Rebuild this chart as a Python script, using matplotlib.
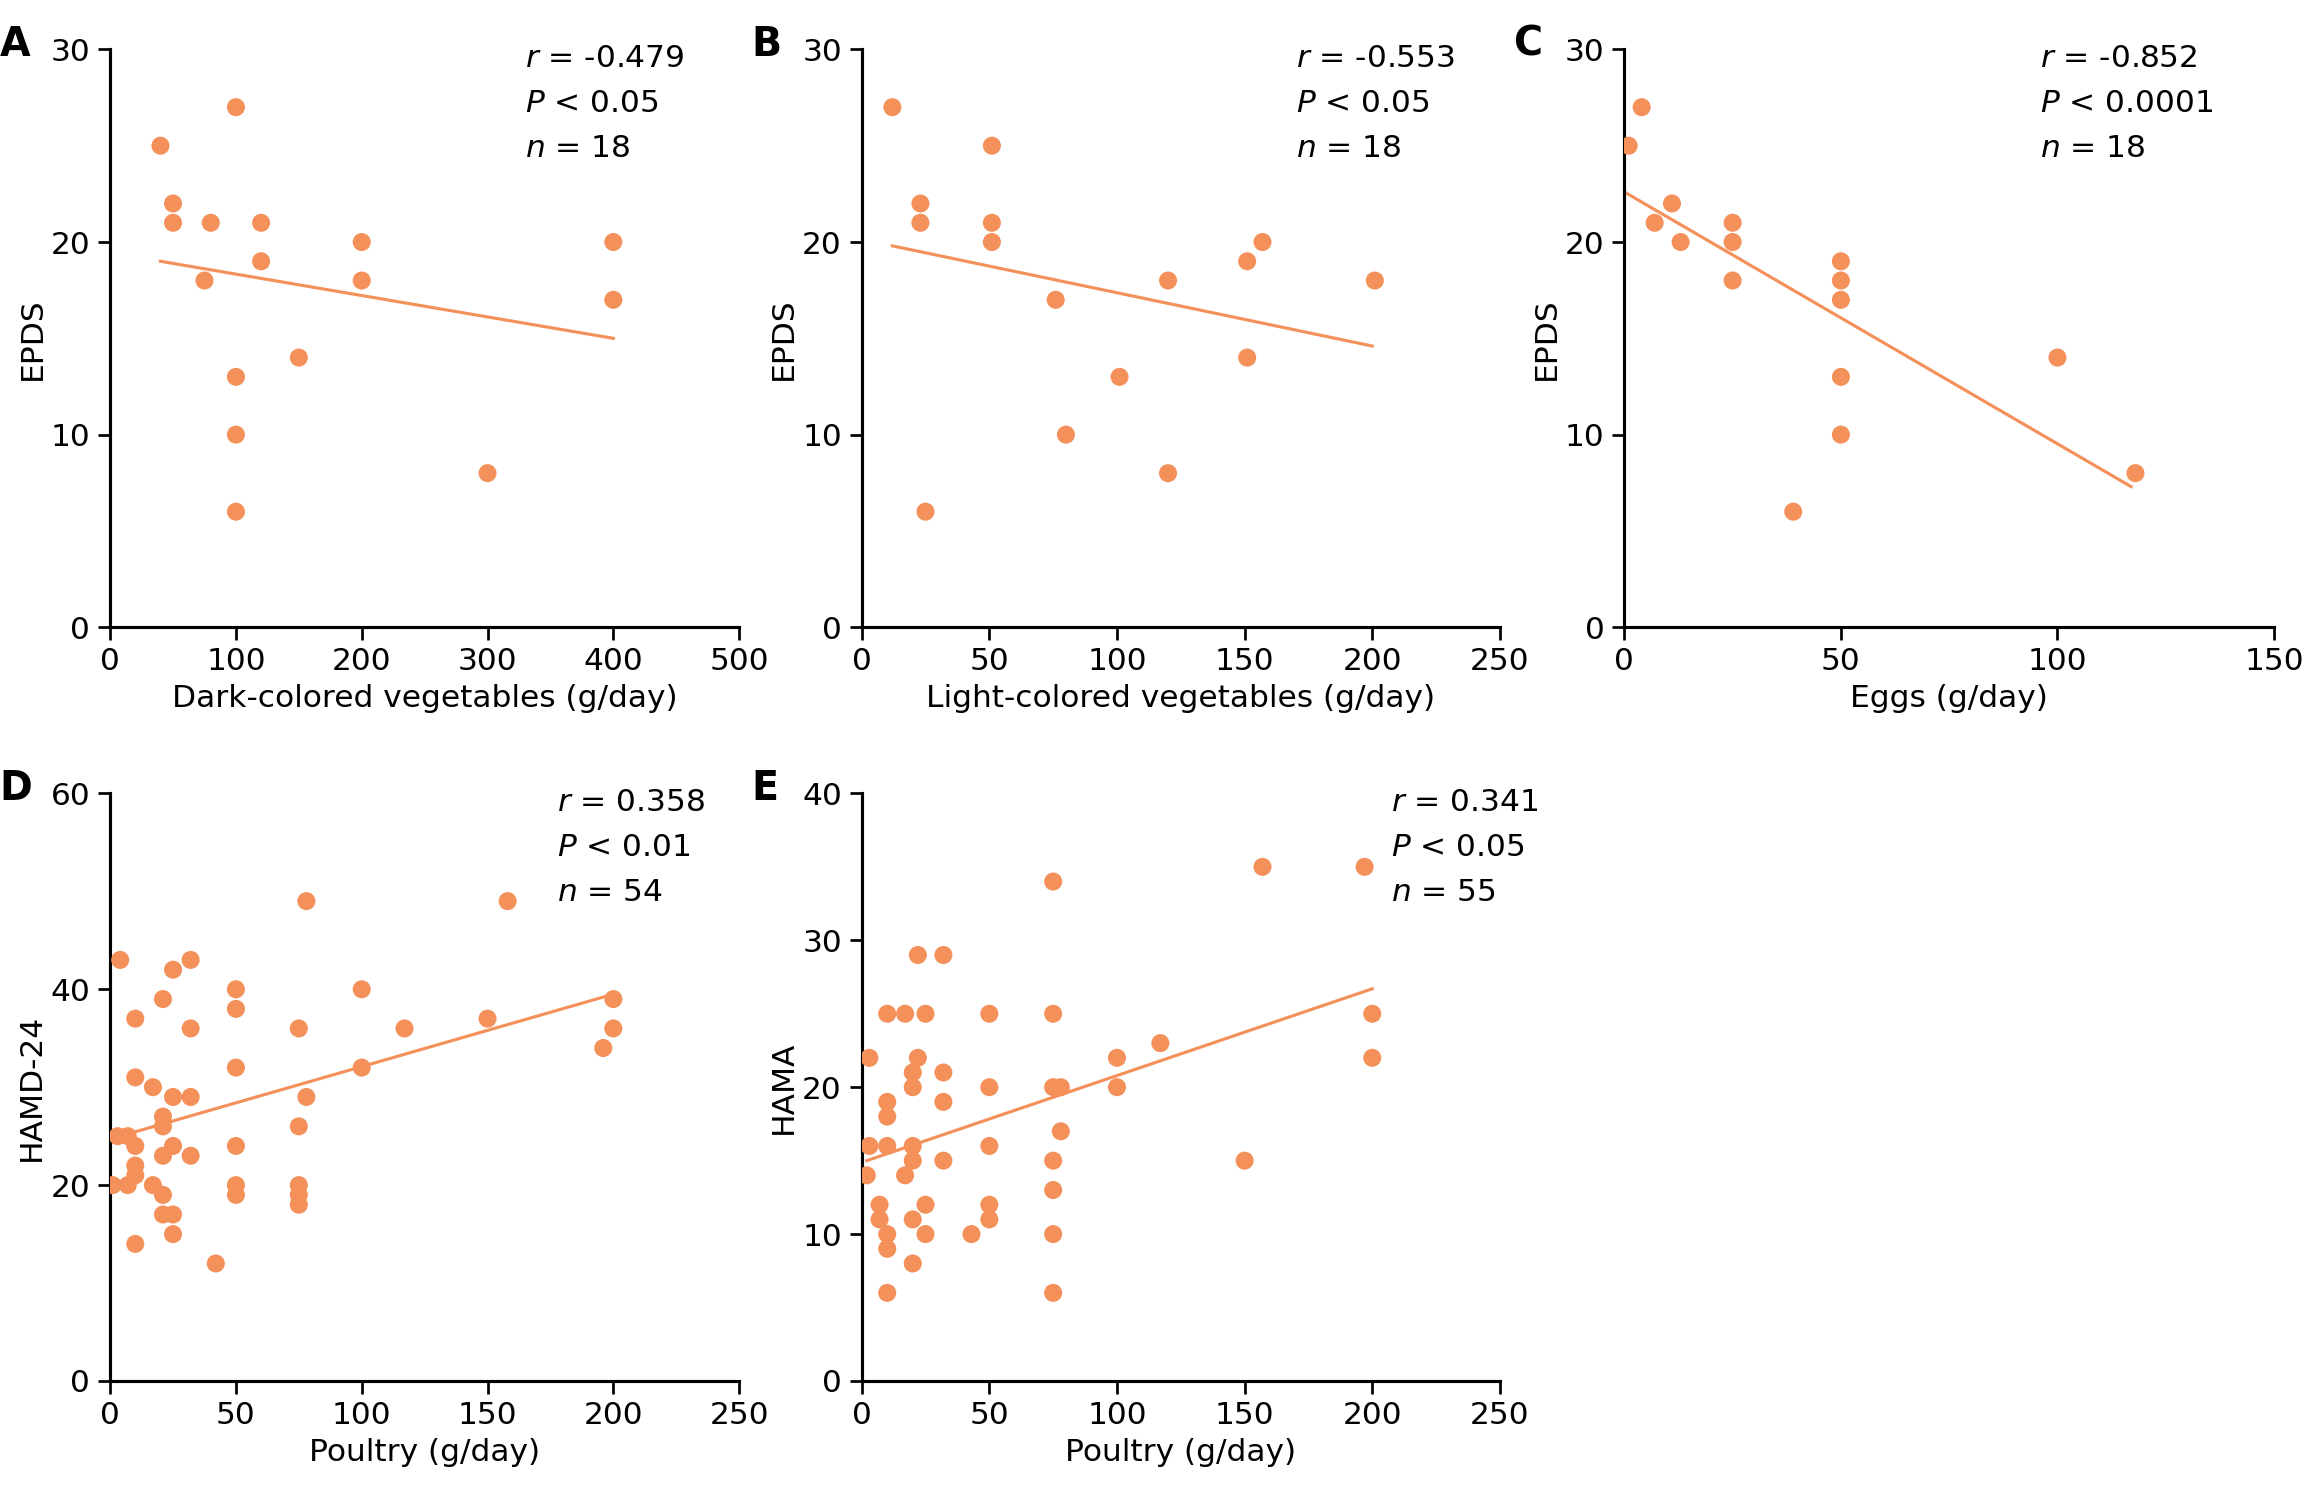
import matplotlib
matplotlib.use("Agg")
import matplotlib.pyplot as plt

col = "#F4905A"

A_x = [40,50,50,75,80,100,100,100,100,120,120,150,200,200,300,400,400]
A_y = [25,22,21,18,21,27,13,10,6,21,19,14,20,18,8,20,17]
A_line = ([40,400],[19,15])

B_x = [12,23,23,25,51,51,51,76,80,101,120,120,151,151,157,201]
B_y = [27,22,21,6,25,21,20,17,10,13,18,8,19,14,20,18]
B_line = ([12,200],[19.8,14.6])

C_x = [1,4,7,11,13,25,25,25,39,50,50,50,50,50,100,118]
C_y = [25,27,21,22,20,21,20,18,6,19,18,17,13,10,14,8]
C_line = ([0,117],[22.6,7.3])

D_x = [1,3,4,7,7,10,10,10,10,10,10,17,17,21,21,21,21,21,21,25,25,25,25,25,
       32,32,32,32,42,50,50,50,50,50,50,75,75,75,75,75,78,78,100,100,117,150,158,196,200,200]
D_y = [20,25,43,25,20,37,31,24,22,21,14,30,20,39,27,26,23,19,17,42,29,24,17,15,
       43,36,29,23,12,40,38,32,24,20,19,36,26,20,19,18,49,29,40,32,36,37,49,34,39,36]
D_line = ([4,200],[25,39.5])

E_x = [2,3,3,7,7,10,10,10,10,10,10,10,17,17,20,20,20,20,20,20,22,25,22,25,25,
       32,32,32,32,43,50,50,50,50,50,75,75,75,75,75,75,75,78,78,100,100,117,150,157,197,200,200]
E_y = [14,22,16,12,11,25,19,18,16,10,9,6,25,14,21,20,16,15,11,8,29,25,22,12,10,
       29,21,19,15,10,25,20,16,12,11,34,25,20,15,13,10,6,20,17,22,20,23,15,35,35,25,22]
E_line = ([2,200],[15,26.7])

panels = [
    ("A", [0.0478,0.581,0.273,0.386], A_x, A_y, A_line, (0,500,100), (0,30,10), "Dark-colored vegetables (g/day)", "EPDS", ["-0.479","< 0.05","18"], 0.66),
    ("B", [0.374,0.581,0.277,0.386], B_x, B_y, B_line, (0,250,50), (0,30,10), "Light-colored vegetables (g/day)", "EPDS", ["-0.553","< 0.05","18"], 0.68),
    ("C", [0.705,0.581,0.282,0.386], C_x, C_y, C_line, (0,150,50), (0,30,10), "Eggs (g/day)", "EPDS", ["-0.852","< 0.0001","18"], 0.64),
    ("D", [0.0478,0.0775,0.273,0.3925], D_x, D_y, D_line, (0,250,50), (0,60,20), "Poultry (g/day)", "HAMD-24", ["0.358","< 0.01","54"], 0.71),
    ("E", [0.374,0.0775,0.277,0.3925], E_x, E_y, E_line, (0,250,50), (0,40,10), "Poultry (g/day)", "HAMA", ["0.341","< 0.05","55"], 0.83),
]

fig = plt.figure(figsize=(15.36, 9.98), dpi=150)
fs = 15
for lab, pos, x, y, line, xr, yr, xl, yl, st, tx in panels:
    ax = fig.add_axes(pos)
    ax.scatter(x, y, s=75, color=col, edgecolors="none", zorder=3)
    ax.plot(line[0], line[1], color=col, lw=1.5, zorder=2)
    ax.set_xlim(xr[0], xr[1]); ax.set_ylim(yr[0], yr[1])
    ax.set_xticks(range(xr[0], xr[1]+1, xr[2]))
    ax.set_yticks(range(yr[0], yr[1]+1, yr[2]))
    for s in ["top","right"]:
        ax.spines[s].set_visible(False)
    for s in ["left","bottom"]:
        ax.spines[s].set_linewidth(1.5)
    ax.tick_params(labelsize=fs, width=1.3, length=6, direction="out")
    ax.set_xlabel(xl, fontsize=fs)
    ax.set_ylabel(yl, fontsize=fs, labelpad=2)
    ax.text(tx, 1.01, f"$r$ = {st[0]}\n$P$ {st[1]}\n$n$ = {st[2]}", transform=ax.transAxes,
            ha="left", va="top", fontsize=fs, linespacing=1.7)
    fig.text(pos[0]-0.048, pos[1]+pos[3]+0.003, lab, fontsize=19, fontweight="bold", va="center", ha="left")

fig.savefig("out.png", dpi=150)
